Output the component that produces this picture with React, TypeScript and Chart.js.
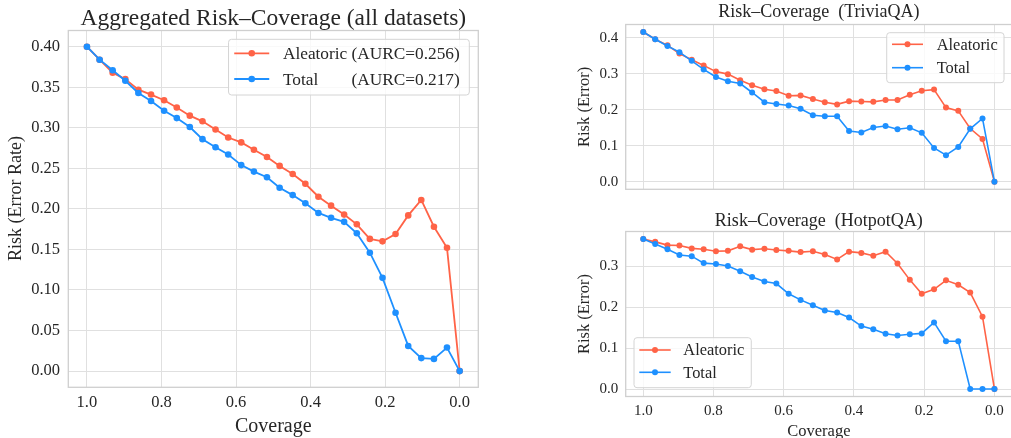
import React, { useEffect, useRef } from "react";
import { Chart, registerables } from "chart.js";

Chart.register(...registerables);

// ---------------- data ----------------
const coverage = [
  1.0, 0.966, 0.931, 0.897, 0.862, 0.828, 0.793, 0.759, 0.724, 0.69,
  0.655, 0.621, 0.586, 0.552, 0.517, 0.483, 0.448, 0.414, 0.379, 0.345,
  0.31, 0.276, 0.241, 0.207, 0.172, 0.138, 0.103, 0.069, 0.034, 0.0,
];

const aggAleatoric = [
  0.4, 0.384, 0.368, 0.36, 0.347, 0.341, 0.334, 0.325, 0.315, 0.308,
  0.298, 0.288, 0.282, 0.273, 0.264, 0.253, 0.243, 0.231, 0.215, 0.204,
  0.193, 0.181, 0.163, 0.16, 0.169, 0.192, 0.211, 0.178, 0.152, 0.0,
];
const aggTotal = [
  0.4, 0.384, 0.371, 0.358, 0.343, 0.333, 0.321, 0.312, 0.301, 0.286,
  0.276, 0.267, 0.254, 0.246, 0.239, 0.226, 0.217, 0.207, 0.195, 0.189,
  0.184, 0.17, 0.146, 0.115, 0.072, 0.031, 0.016, 0.015, 0.029, 0.0,
];

const triviaAleatoric = [
  0.416, 0.396, 0.379, 0.356, 0.339, 0.323, 0.306, 0.299, 0.282, 0.268,
  0.257, 0.252, 0.239, 0.24, 0.23, 0.221, 0.215, 0.224, 0.223, 0.222,
  0.227, 0.227, 0.242, 0.253, 0.256, 0.206, 0.197, 0.148, 0.119, 0.0,
];
const triviaTotal = [
  0.416, 0.396, 0.377, 0.36, 0.336, 0.312, 0.291, 0.279, 0.273, 0.248,
  0.221, 0.216, 0.212, 0.203, 0.185, 0.182, 0.182, 0.141, 0.137, 0.151,
  0.155, 0.146, 0.15, 0.136, 0.094, 0.074, 0.097, 0.147, 0.176, 0.0,
];

const hotpotAleatoric = [
  0.367, 0.36, 0.352, 0.351, 0.344, 0.342, 0.337, 0.338, 0.349, 0.341,
  0.343, 0.34, 0.338, 0.335, 0.337, 0.329, 0.317, 0.336, 0.333, 0.326,
  0.336, 0.307, 0.267, 0.233, 0.244, 0.266, 0.255, 0.236, 0.177, 0.0,
];
const hotpotTotal = [
  0.367, 0.355, 0.342, 0.328, 0.325, 0.308, 0.306, 0.301, 0.288, 0.274,
  0.263, 0.258, 0.233, 0.218, 0.205, 0.192, 0.187, 0.175, 0.154, 0.146,
  0.135, 0.131, 0.134, 0.136, 0.163, 0.117, 0.117, 0.0, 0.0, 0.0,
];

const aurcAleatoric = 0.256;
const aurcTotal = 0.217;

const xTicks = [0.0, 0.2, 0.4, 0.6, 0.8, 1.0];
const aggYTicks = [0.0, 0.05, 0.1, 0.15, 0.2, 0.25, 0.3, 0.35, 0.4];
const triviaYTicks = [0.0, 0.1, 0.2, 0.3, 0.4];
const hotpotYTicks = [0.0, 0.1, 0.2, 0.3];

// ---------------- style ----------------
const FONT = "'Liberation Serif', 'Times New Roman', serif";
const RED = "#ff6347";
const BLUE = "#1e90ff";
const TEXT = "#262626";
const GRID = "#e0e0e0";
const FRAME = "#cfcfcf";

type Series = { label: string; suffix?: string; data: number[]; color: string };
type LegendCfg = {
  corner: "tr" | "bl";
  mx: number; my: number; size: number;
  padLeft: number; handle: number; gap: number; padRight: number;
  row1: number; step: number; padBottom: number;
};
type Panel = {
  left: number; top: number; width: number; height: number;
  area: { l: number; t: number; r: number; b: number };
  title: string; titleSize: number; titleBase: number;
  yTitle: string; yTitleSize: number; yTitleX: number; yTitleDy: number;
  xTitle?: string; xTitleSize?: number; xTitleBase?: number;
  tickSize: number; yTickPad: number; xTickPad: number; showXTicks: boolean;
  yTicks: number[]; yDecimals: number;
  lineWidth: number; pointRadius: number;
  series: Series[];
  legend: LegendCfg;
};

const panels: Panel[] = [
  {
    left: 0, top: 0, width: 500, height: 438,
    area: { l: 68.3, t: 30.5, r: 478.3, b: 387.3 },
    title: "Aggregated Risk\u2013Coverage (all datasets)", titleSize: 23.5, titleBase: 25,
    yTitle: "Risk (Error Rate)", yTitleSize: 18, yTitleX: 20.7, yTitleDy: -10.4,
    xTitle: "Coverage", xTitleSize: 20, xTitleBase: 431.5,
    tickSize: 16.5, yTickPad: 8.3, xTickPad: 5, showXTicks: true,
    yTicks: aggYTicks, yDecimals: 2,
    lineWidth: 1.8, pointRadius: 3.3,
    series: [
      { label: "Aleatoric", suffix: `(AURC=${aurcAleatoric.toFixed(3)})`, data: aggAleatoric, color: RED },
      { label: "Total", suffix: `(AURC=${aurcTotal.toFixed(3)})`, data: aggTotal, color: BLUE },
    ],
    legend: {
      corner: "tr", mx: 9, my: 8.8, size: 17.3,
      padLeft: 5.7, handle: 35, gap: 13.7, padRight: 9.6,
      row1: 14, step: 25.7, padBottom: 16,
    },
  },
  {
    left: 560, top: 0, width: 470, height: 210,
    area: { l: 65.7, t: 24.5, r: 452, b: 189.3 },
    title: "Risk\u2013Coverage  (TriviaQA)", titleSize: 18, titleBase: 17.3,
    yTitle: "Risk (Error)", yTitleSize: 16.5, yTitleX: 29.2, yTitleDy: 0,
    tickSize: 15, yTickPad: 7.4, xTickPad: 5.5, showXTicks: false,
    yTicks: triviaYTicks, yDecimals: 1,
    lineWidth: 1.6, pointRadius: 3,
    series: [
      { label: "Aleatoric", data: triviaAleatoric, color: RED },
      { label: "Total", data: triviaTotal, color: BLUE },
    ],
    legend: {
      corner: "tr", mx: 8, my: 8.2, size: 16.4,
      padLeft: 5.3, handle: 31, gap: 13.7, padRight: 6.3,
      row1: 11.6, step: 23.4, padBottom: 15,
    },
  },
  {
    left: 560, top: 210, width: 470, height: 240,
    area: { l: 65.7, t: 21.5, r: 452, b: 186.5 },
    title: "Risk\u2013Coverage  (HotpotQA)", titleSize: 18, titleBase: 16,
    yTitle: "Risk (Error)", yTitleSize: 16.5, yTitleX: 29.2, yTitleDy: 0,
    xTitle: "Coverage", xTitleSize: 16.5, xTitleBase: 225.9,
    tickSize: 15, yTickPad: 7.4, xTickPad: 5.5, showXTicks: true,
    yTicks: hotpotYTicks, yDecimals: 1,
    lineWidth: 1.6, pointRadius: 3,
    series: [
      { label: "Aleatoric", data: hotpotAleatoric, color: RED },
      { label: "Total", data: hotpotTotal, color: BLUE },
    ],
    legend: {
      corner: "bl", mx: 8.3, my: 8.8, size: 16.4,
      padLeft: 5.3, handle: 31.4, gap: 12.6, padRight: 7,
      row1: 12.3, step: 22.3, padBottom: 15.4,
    },
  },
];

// ---------------- decorations plugin ----------------
const decorPlugin = {
  id: "decor",
  afterDraw(chart: any, _args: any, o: any) {
    const p: Panel = o.panel;
    const { ctx, chartArea: a } = chart;
    ctx.save();

    // frame
    ctx.strokeStyle = FRAME;
    ctx.lineWidth = 1.3;
    ctx.strokeRect(a.left, a.top, a.right - a.left, a.bottom - a.top);

    ctx.fillStyle = TEXT;
    const cx = (a.left + a.right) / 2;

    // title
    ctx.font = `${p.titleSize}px ${FONT}`;
    ctx.textAlign = "center";
    ctx.textBaseline = "alphabetic";
    ctx.fillText(p.title, cx, p.titleBase);

    // x title
    if (p.xTitle) {
      ctx.font = `${p.xTitleSize}px ${FONT}`;
      ctx.fillText(p.xTitle, cx, p.xTitleBase as number);
    }

    // y title
    ctx.save();
    ctx.font = `${p.yTitleSize}px ${FONT}`;
    ctx.translate(p.yTitleX, (a.top + a.bottom) / 2 + p.yTitleDy);
    ctx.rotate(-Math.PI / 2);
    ctx.fillText(p.yTitle, 0, 0);
    ctx.restore();

    // legend
    const L = p.legend;
    ctx.font = `${L.size}px ${FONT}`;
    ctx.textAlign = "left";
    const hasSuffix = p.series.some((s) => s.suffix);
    const nameCol = hasSuffix
      ? Math.max(...p.series.map((s) => ctx.measureText(s.label + " ").width))
      : 0;
    const textW = Math.max(
      ...p.series.map((s) =>
        s.suffix ? nameCol + ctx.measureText(s.suffix).width : ctx.measureText(s.label).width
      )
    );
    const boxW = L.padLeft + L.handle + L.gap + textW + L.padRight;
    const boxH = L.row1 + L.step * (p.series.length - 1) + L.padBottom;
    const x0 = L.corner === "tr" ? a.right - L.mx - boxW : a.left + L.mx;
    const y0 = L.corner === "tr" ? a.top + L.my : a.bottom - L.my - boxH;

    ctx.beginPath();
    ctx.roundRect(x0, y0, boxW, boxH, 3);
    ctx.fillStyle = "rgba(255,255,255,0.8)";
    ctx.fill();
    ctx.strokeStyle = "#d4d4d4";
    ctx.lineWidth = 1;
    ctx.stroke();

    p.series.forEach((s, i) => {
      const cy = y0 + L.row1 + i * L.step;
      const hx0 = x0 + L.padLeft;
      const hx1 = hx0 + L.handle;
      ctx.strokeStyle = s.color;
      ctx.lineWidth = p.lineWidth;
      ctx.beginPath();
      ctx.moveTo(hx0, cy);
      ctx.lineTo(hx1, cy);
      ctx.stroke();
      ctx.fillStyle = s.color;
      ctx.beginPath();
      ctx.arc((hx0 + hx1) / 2, cy, p.pointRadius, 0, Math.PI * 2);
      ctx.fill();

      ctx.fillStyle = TEXT;
      const tx = hx1 + L.gap;
      const ty = cy + 0.331 * L.size;
      ctx.fillText(s.label, tx, ty);
      if (s.suffix) ctx.fillText(s.suffix, tx + nameCol, ty);
    });

    ctx.restore();
  },
};

function limits(values: number[]) {
  const lo = Math.min(...values);
  const hi = Math.max(...values);
  const m = (hi - lo) * 0.05;
  return { min: lo - m, max: hi + m };
}

function buildConfig(p: Panel): any {
  const xl = limits(coverage);
  const yl = limits(p.series.flatMap((s) => s.data));
  const n = p.series.length;
  return {
    type: "line",
    data: {
      datasets: p.series.map((s, i) => ({
        label: s.label,
        data: coverage.map((c, j) => ({ x: c, y: s.data[j] })),
        borderColor: s.color,
        backgroundColor: s.color,
        pointBackgroundColor: s.color,
        pointBorderColor: s.color,
        pointBorderWidth: 0,
        pointRadius: p.pointRadius,
        borderWidth: p.lineWidth,
        tension: 0,
        fill: false,
        order: n - 1 - i,
      })),
    },
    options: {
      responsive: false,
      animation: false,
      events: [],
      layout: {
        autoPadding: false,
        padding: { left: 0, top: p.area.t, right: p.width - p.area.r, bottom: 0 },
      },
      plugins: {
        legend: { display: false },
        tooltip: { enabled: false },
        title: { display: false },
        decor: { panel: p },
      },
      scales: {
        x: {
          type: "linear",
          reverse: true,
          min: xl.min,
          max: xl.max,
          afterBuildTicks: (s: any) => {
            s.ticks = xTicks.map((v) => ({ value: v }));
          },
          afterFit: (s: any) => {
            s.height = p.height - p.area.b;
          },
          grid: { color: GRID, lineWidth: 1, drawTicks: false },
          border: { display: false },
          ticks: {
            display: p.showXTicks,
            padding: p.xTickPad,
            color: TEXT,
            font: { family: FONT, size: p.tickSize },
            maxRotation: 0,
            autoSkip: false,
            callback: (v: any) => Number(v).toFixed(1),
          },
        },
        y: {
          type: "linear",
          min: yl.min,
          max: yl.max,
          afterBuildTicks: (s: any) => {
            s.ticks = p.yTicks.map((v) => ({ value: v }));
          },
          afterFit: (s: any) => {
            s.width = p.area.l;
          },
          grid: { color: GRID, lineWidth: 1, drawTicks: false },
          border: { display: false },
          ticks: {
            padding: p.yTickPad,
            color: TEXT,
            font: { family: FONT, size: p.tickSize },
            autoSkip: false,
            callback: (v: any) => Number(v).toFixed(p.yDecimals),
          },
        },
      },
    },
    plugins: [decorPlugin],
  };
}

function PanelChart({ p }: { p: Panel }) {
  const ref = useRef<HTMLCanvasElement>(null);
  useEffect(() => {
    const chart = new Chart(ref.current as HTMLCanvasElement, buildConfig(p));
    return () => chart.destroy();
  }, [p]);
  return (
    <canvas
      ref={ref}
      width={p.width}
      height={p.height}
      style={{ position: "absolute", left: p.left, top: p.top, width: p.width, height: p.height }}
    />
  );
}

export default function App() {
  return (
    <div
      style={{
        position: "fixed",
        left: 0,
        top: 0,
        width: 1011,
        height: 438,
        overflow: "hidden",
        background: "#ffffff",
      }}
    >
      {panels.map((p, i) => (
        <PanelChart key={i} p={p} />
      ))}
    </div>
  );
}
